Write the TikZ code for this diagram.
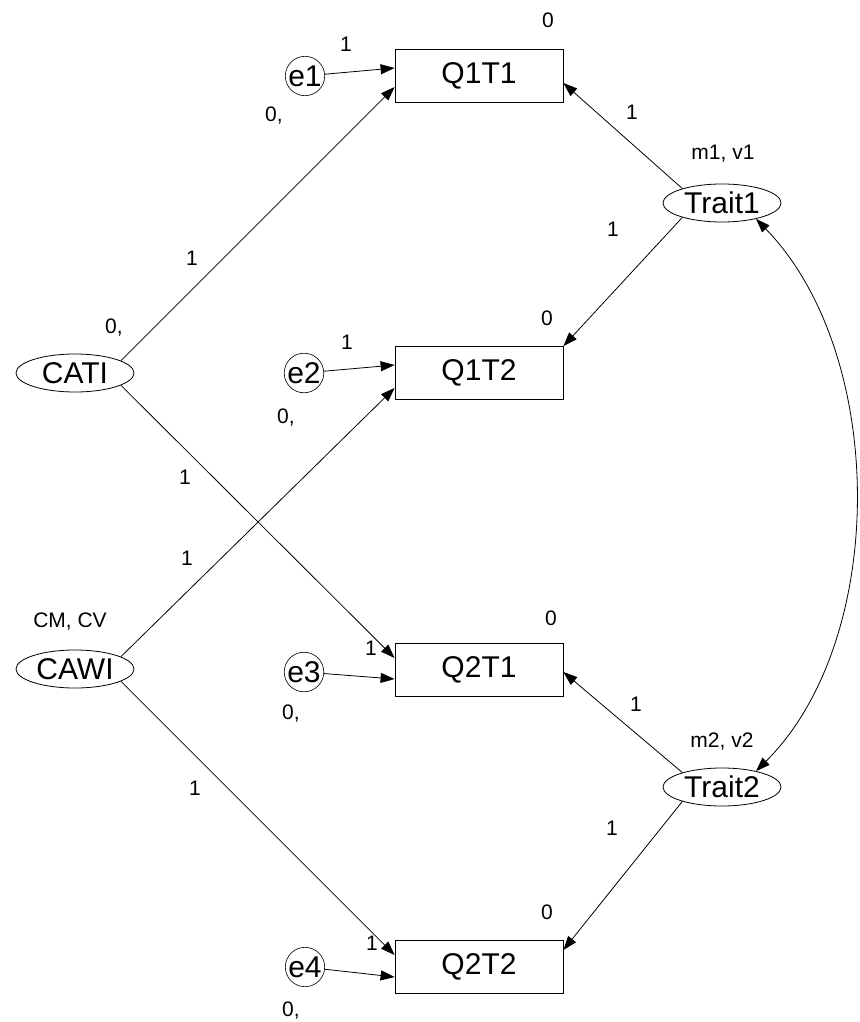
\documentclass[tikz,border=0pt]{standalone}
\usepackage{fontspec}
\setmainfont{Liberation Sans}
\usetikzlibrary{arrows.meta,shapes.geometric}
\begin{document}
\begin{tikzpicture}[x=1pt,y=-1pt,
  obs/.style={draw,line width=0.8pt,minimum width=168pt,minimum height=53pt,inner sep=0pt,font=\fontsize{30}{33}\selectfont},
  lat/.style={draw,line width=0.8pt,ellipse,minimum width=118pt,minimum height=38pt,inner sep=0pt,font=\fontsize{30}{33}\selectfont},
  err/.style={draw,line width=0.6pt,circle,minimum size=36pt,inner sep=0pt,font=\fontsize{30}{33}\selectfont},
  lbl/.style={font=\fontsize{21}{24}\selectfont,inner sep=0pt},
  path/.style={line width=0.8pt,-{Triangle[length=14pt,width=10pt]}},
  cov/.style={line width=0.8pt,{Triangle[length=14pt,width=10pt]}-{Triangle[length=14pt,width=10pt]}}]
\useasboundingbox (0,0) rectangle (859,1022);
\node[obs] (Q1T1) at (479,76) {Q1T1};
\node[obs] (Q1T2) at (479,373) {Q1T2};
\node[obs] (Q2T1) at (479,670) {Q2T1};
\node[obs] (Q2T2) at (479,967) {Q2T2};
\node[err] (e1) at (305,76) {e1};
\node[err] (e2) at (304,373) {e2};
\node[err] (e3) at (304,672) {e3};
\node[err] (e4) at (305,967) {e4};
\node[lat] (CATI) at (75,373) {CATI};
\node[lat] (CAWI) at (75,669) {CAWI};
\node[lat] (Trait1) at (722,203) {Trait1};
\node[lat] (Trait2) at (722,787) {Trait2};
% error paths
\draw[path] (e1) -- ([yshift=8pt]Q1T1.west);
\draw[path] (e2) -- ([yshift=8pt]Q1T2.west);
\draw[path] (e3) -- ([yshift=-9pt]Q2T1.west);
\draw[path] (e4) -- ([yshift=-10pt]Q2T2.west);
% method paths
\draw[path] (CATI.15) -- ([yshift=-11pt]Q1T1.west);
\draw[path] (CATI.-15) -- ([yshift=12pt]Q2T1.west);
\draw[path] (CAWI.15) -- ([yshift=-15pt]Q1T2.west);
\draw[path] (CAWI.-15) -- ([yshift=12pt]Q2T2.west);
% trait paths
\draw[path] (Trait1.160) -- ([yshift=-7pt]Q1T1.east);
\draw[path] (Trait1.200) -- (Q1T2.north east);
\draw[path] (Trait2.160) -- ([yshift=-2pt]Q2T1.east);
\draw[path] (Trait2.200) -- ([yshift=17pt]Q2T2.east);
% covariance
\draw[cov] (Trait1.-25) .. controls (888,355) and (888,640) .. (Trait2.25);
% labels
\node[lbl] (l1) at (548,20) {0};
\node[lbl] (l2) at (346,44) {1};
\node[lbl] (l3) at (274,116) {0,};
\node[lbl] (l4) at (632,112) {1};
\node[lbl] (l5) at (723,154) {m1, v1};
\node[lbl] (l6) at (613,229) {1};
\node[lbl] (l7) at (192,258) {1};
\node[lbl] (l8) at (114,328) {0,};
\node[lbl] (l9) at (547,318) {0};
\node[lbl] (l10) at (347,342) {1};
\node[lbl] (l11) at (286,418) {0,};
\node[lbl] (l12) at (185,477) {1};
\node[lbl] (l13) at (187,558) {1};
\node[lbl] (l14) at (70,622) {CM, CV};
\node[lbl] (l15) at (551,618) {0};
\node[lbl] (l16) at (371,648) {1};
\node[lbl] (l17) at (291,714) {0,};
\node[lbl] (l18) at (636,704) {1};
\node[lbl] (l19) at (722,742) {m2, v2};
\node[lbl] (l20) at (195,788) {1};
\node[lbl] (l21) at (612,828) {1};
\node[lbl] (l22) at (547,912) {0};
\node[lbl] (l23) at (372,943) {1};
\node[lbl] (l24) at (291,1010) {0,};
\end{tikzpicture}
\end{document}
